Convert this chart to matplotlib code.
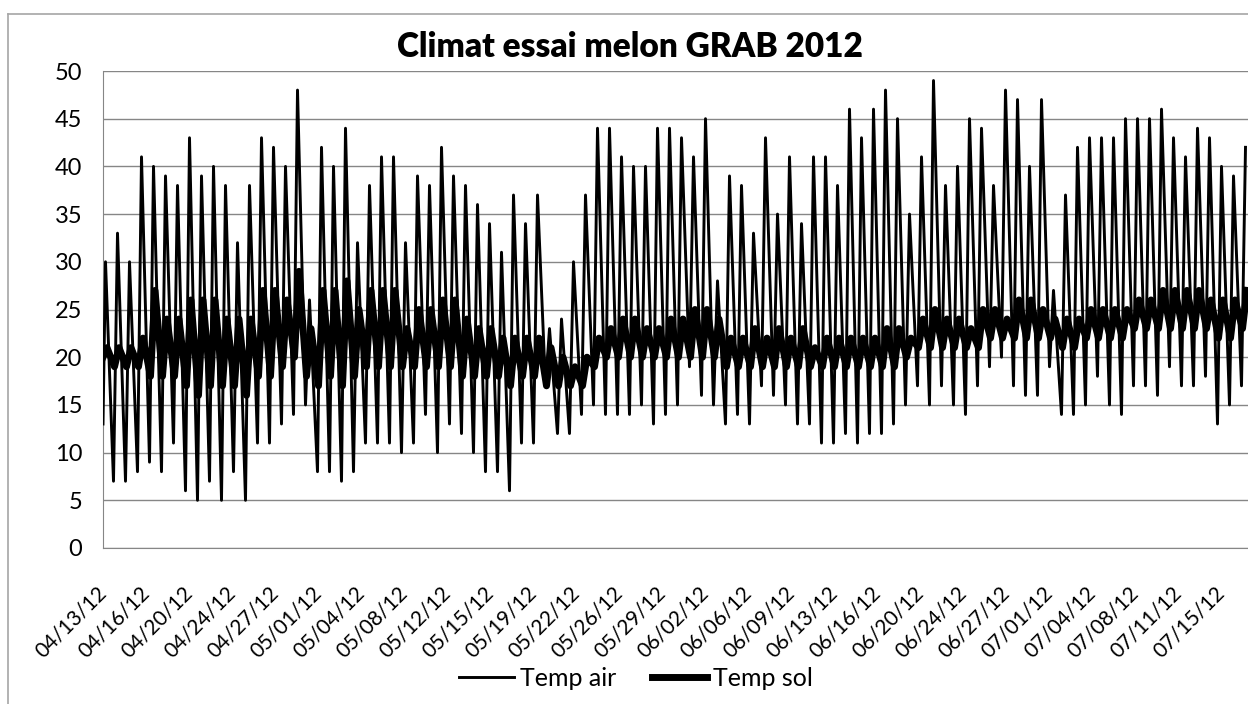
import datetime as dt
import matplotlib
matplotlib.use('Agg')
import matplotlib.pyplot as plt
from matplotlib.lines import Line2D

plt.rcParams['font.family'] = ['Lato', 'DejaVu Sans']

# --- data (daily extremes, °C) ---
start = dt.datetime(2012, 4, 13, 9)   # first hourly record
day0 = dt.datetime(2012, 4, 13)

air_start = 13
soil_start = 20

# daily max of air temp, 04/13 .. 07/17
air_max = [30, 33, 30, 41, 40, 39, 38, 43, 39, 40, 38, 32, 38, 43, 42, 40,
           48, 26, 42, 40, 44, 32, 38, 41, 41, 32, 39, 38, 42, 39, 38, 36,
           34, 31, 37, 34, 37, 23, 24, 30, 37, 44, 44, 41, 40, 40, 44, 44,
           43, 41, 45, 28, 39, 38, 33, 43, 35, 41, 34, 41, 41, 38, 46, 43,
           46, 48, 45, 35, 41, 49, 38, 40, 45, 44, 38, 48, 47, 40, 47, 27,
           37, 42, 43, 43, 43, 45, 45, 45, 46, 43, 41, 44, 43, 40, 39, 42]
# daily min of air temp, 04/14 .. 07/17
air_min = [7, 7, 8, 9, 8, 11, 6, 5, 7, 5, 8, 5, 11, 11, 13,
           14, 15, 8, 8, 7, 8, 11, 11, 11, 10, 11, 14, 10, 13, 12, 10,
           8, 8, 6, 11, 11, 17, 12, 12, 14, 15, 14, 14, 14, 15, 13, 14,
           15, 19, 16, 15, 13, 14, 13, 17, 16, 15, 13, 13, 11, 11, 12, 11,
           12, 12, 13, 15, 17, 15, 17, 15, 14, 17, 19, 20, 17, 16, 16, 19,
           14, 14, 15, 18, 15, 14, 17, 17, 16, 19, 17, 17, 18, 13, 15, 17]

# daily max of soil temp, 04/13 .. 07/17
soil_max = [21, 21, 21, 22, 27, 24, 24, 26, 26, 26, 24, 24, 24, 27, 27, 26,
            29, 23, 27, 27, 28, 25, 27, 27, 27, 23, 25, 25, 26, 26, 24, 23,
            23, 22, 22, 22, 22, 21, 20, 19, 20, 22, 23, 24, 24, 23, 23, 24,
            24, 25, 25, 24, 22, 22, 23, 22, 23, 22, 23, 21, 22, 22, 22, 22,
            22, 23, 23, 22, 24, 25, 24, 24, 23, 25, 25, 24, 26, 26, 25, 24,
            24, 24, 25, 25, 25, 25, 26, 26, 27, 27, 27, 27, 26, 26, 26, 27]
# daily min of soil temp, 04/14 .. 07/17
soil_min = [19, 19, 19, 18, 18, 18, 17, 16, 17, 17, 17, 16, 18, 18, 19,
            20, 18, 17, 18, 17, 18, 19, 19, 19, 19, 19, 19, 19, 19, 18, 18,
            18, 18, 17, 18, 18, 17, 17, 17, 17, 19, 20, 20, 20, 20, 20, 20,
            20, 20, 20, 20, 19, 19, 19, 19, 19, 19, 19, 19, 19, 19, 19, 19,
            19, 19, 19, 20, 21, 21, 21, 21, 21, 21, 22, 22, 22, 22, 22, 22,
            21, 21, 22, 22, 22, 22, 23, 23, 23, 23, 23, 23, 23, 22, 22, 23]

tick_step_hours = 86   # excel shows one label every 86 records
n_ticks = 27
span_hours = 2290


def build(first, lows, highs, low_hour, high_hour):
    t, v = [start], [first]
    for d, hi in enumerate(highs):
        if d > 0:
            t.append(day0 + dt.timedelta(days=d, hours=low_hour))
            v.append(lows[d - 1])
        t.append(day0 + dt.timedelta(days=d, hours=high_hour))
        v.append(hi)
    return t, v


air_t, air_v = build(air_start, air_min, air_max, 6, 14)
soil_t, soil_v = build(soil_start, soil_min, soil_max, 8, 17)

W, H = 1248, 704
fig = plt.figure(figsize=(W / 100, H / 100), dpi=100)
ax = fig.add_axes([103 / W, 1 - 548 / H, 1 - 103 / W, (548 - 71) / H])

grey = '#868686'
ax.plot(air_t, air_v, color='black', lw=2.1, label='Temp air', zorder=3)
ax.plot(soil_t, soil_v, color='black', lw=5, label='Temp sol', zorder=2)

ax.set_ylim(0, 50)
ax.set_yticks(range(0, 51, 5))
ax.yaxis.grid(True, color=grey, lw=1)
ax.set_axisbelow(True)
ax.set_xlim(start, start + dt.timedelta(hours=span_hours))

ticks = [start + dt.timedelta(hours=k * tick_step_hours) for k in range(n_ticks)]
ax.set_xticks(ticks)
ax.set_xticklabels([t.strftime('%m/%d/%y') for t in ticks], rotation=45,
                   ha='right', va='center', rotation_mode='anchor')

for s in ['top', 'right']:
    ax.spines[s].set_visible(False)
for s in ['left', 'bottom']:
    ax.spines[s].set_color(grey)
ax.tick_params(axis='both', length=0)
ax.tick_params(axis='y', pad=15, labelsize=17)
ax.tick_params(axis='x', pad=30, labelsize=15)

# chart area border (cut off on the right)
fig.add_artist(Line2D([8 / W, 8 / W], [0, 1 - 14 / H], transform=fig.transFigure,
                      color='#a6a6a6', lw=1.2))
fig.add_artist(Line2D([8 / W, 1], [1 - 14 / H, 1 - 14 / H], transform=fig.transFigure,
                      color='#a6a6a6', lw=1.2))

fig.text(630 / W, 1 - 47 / H, 'Climat essai melon GRAB 2012', ha='center', va='center',
         fontsize=24, fontweight='heavy')

fig.legend(loc='center', bbox_to_anchor=(636 / W, 1 - 678 / H), ncol=2, frameon=False,
           fontsize=18, handlelength=2.2, handletextpad=0.25, columnspacing=1.4)

fig.savefig('out.png', dpi=100)
